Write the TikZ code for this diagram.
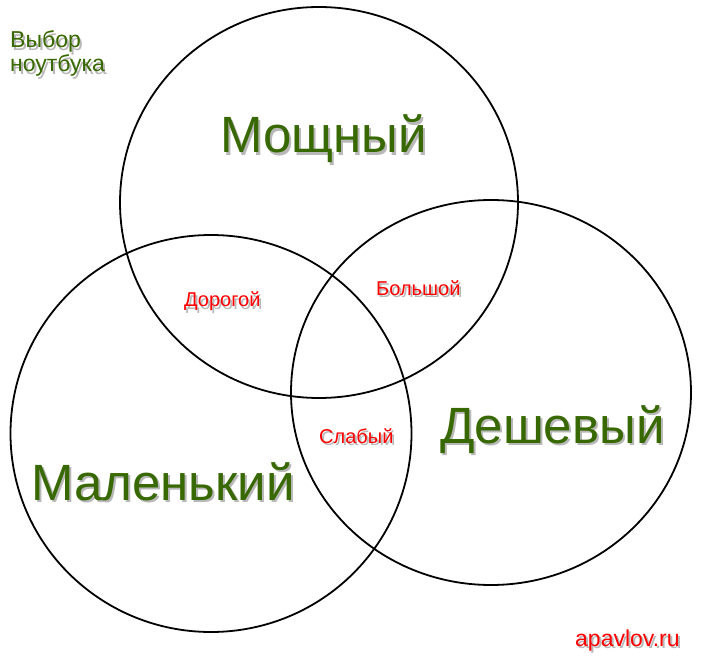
\documentclass[tikz,border=0pt]{standalone}
\usepackage{fontspec}
\setmainfont{Liberation Sans}
\usepackage{xcolor}
\usetikzlibrary{shapes.geometric}
\definecolor{leafgreen}{RGB}{56,104,0}
\definecolor{labelred}{RGB}{255,0,0}
\newcommand{\shadowed}[1]{\rlap{\hspace{2pt}\raisebox{-2.5pt}{\textcolor{black!28}{#1}}}#1}

\begin{document}
\begin{tikzpicture}[x=1pt,y=-1pt]
		
		\tikzset{ring/.style = {shape=ellipse,draw,line width=1.8pt,inner sep=0pt}}
		\tikzset{big/.style = {anchor=base west,inner sep=0pt,text=leafgreen,font=\fontsize{51}{56}\selectfont}}
		\tikzset{small/.style = {anchor=base west,inner sep=0pt,text=labelred,font=\fontsize{20}{22}\selectfont}}
		\tikzset{corner/.style = {anchor=base west,inner sep=0pt,text=leafgreen,font=\fontsize{23}{26}\selectfont}}
		\useasboundingbox (0,0) rectangle (704,668);
		%circles
		\node[ring,minimum width=398pt,minimum height=391pt] (top) at (319,202.5) {};
		\node[ring,minimum width=401pt,minimum height=397pt] (left) at (211,433.5) {};
		\node[ring,minimum width=400pt,minimum height=385pt] (right) at (491,392.5) {};
		%labels
		\node[big] (power) at (220,153) {\shadowed{Мощный}};
		\node[big] (tiny) at (31,500) {\shadowed{Маленький}};
		\node[big] (cheap) at (440,443) {\shadowed{Дешевый}};
		\node[small] (costly) at (184,307) {\shadowed{Дорогой}};
		\node[small] (large) at (376,295) {\shadowed{Большой}};
		\node[small] (weak) at (319,443) {\shadowed{Слабый}};
		\node[corner] (title1) at (10,48) {\shadowed{Выбор}};
		\node[corner] (title2) at (10,72) {\shadowed{ноутбука}};
		\node[corner,text=labelred] (site) at (575,646) {\shadowed{apavlov.ru}};
		\end{tikzpicture}
\end{document}
